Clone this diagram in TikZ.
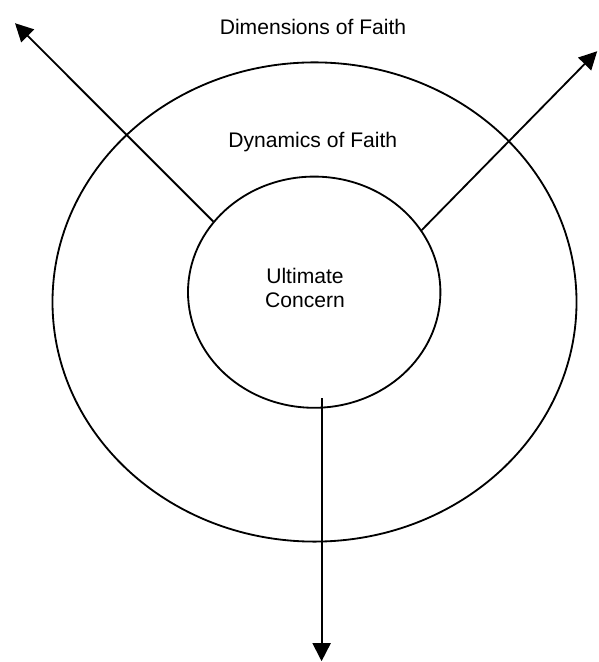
\documentclass[tikz,border=0pt]{standalone}
\usepackage{fontspec}
\setmainfont{Liberation Sans}
\usetikzlibrary{shapes.geometric,arrows.meta}

\begin{document}
\begin{tikzpicture}[every node/.style={font=\fontsize{15}{17}\selectfont},
  ring/.style={draw, ellipse, line width=1.3pt, inner sep=0pt},
  ray/.style={line width=1.3pt, -{Triangle[length=0.45cm,width=0.45cm]}}]
\useasboundingbox (0,0) rectangle (14.95,16.55);

\node[ring, minimum width=13.1cm, minimum height=11.98cm] (dynamics) at (7.8625,9.0) {};
\node[ring, minimum width=6.31cm, minimum height=5.78cm] (concern) at (7.855,9.245) {};

\node (dimlabel) at (7.825,15.875) {Dimensions of Faith};
\node (dynlabel) at (7.82,13.0) {Dynamics of Faith};
\node[align=center] (uclabel) at (7.625,9.35) {Ultimate\\Concern};

\coordinate (tipNW) at (0.375,15.97);
\coordinate (tipNE) at (14.93,15.27);
\coordinate (stemS) at (8.04,6.59);
\coordinate (tipS) at (8.04,0.02);

\draw[ray] (concern.145) -- (tipNW);
\draw[ray] (concern.30) -- (tipNE);
\draw[ray] (stemS) -- (tipS);
\end{tikzpicture}
\end{document}
